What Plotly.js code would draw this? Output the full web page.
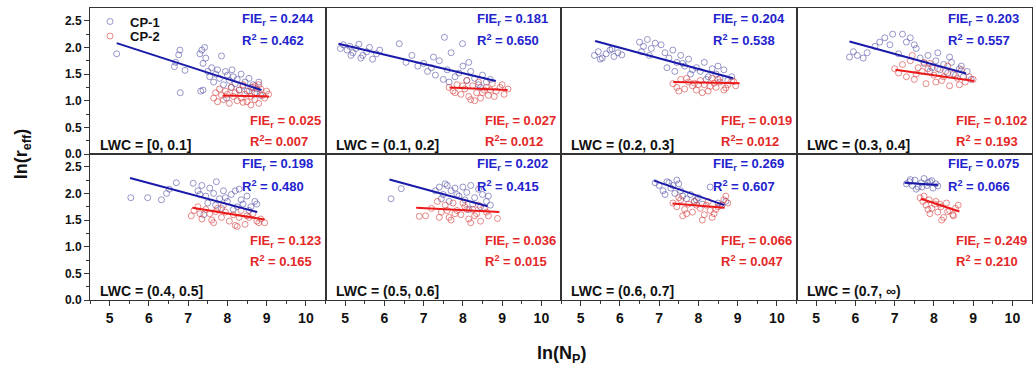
<!DOCTYPE html>
<html>
<head>
<meta charset="utf-8">
<script src="https://cdn.plot.ly/plotly-3.0.1.min.js"></script>
<style>html,body{margin:0;padding:0;background:#fff;}#chart{width:1035px;height:374px;}</style>
</head>
<body>
<div id="chart"></div>
<script>
// ---------- DATA ----------
const lwcLabels = ['LWC = [0, 0.1]','LWC = (0.1, 0.2]','LWC = (0.2, 0.3]','LWC = (0.3, 0.4]',
                   'LWC = (0.4, 0.5]','LWC = (0.5, 0.6]','LWC = (0.6, 0.7]','LWC = (0.7, \u221E)'];
const fie1 = ['0.244','0.181','0.204','0.203','0.198','0.202','0.269','0.075'];
const r2cp1 = ['0.462','0.650','0.538','0.557','0.480','0.415','0.607','0.066'];
const fie2 = ['0.025','0.027','0.019','0.102','0.123','0.036','0.066','0.249'];
const r2cp2 = ['0.007','0.012','0.012','0.193','0.165','0.015','0.047','0.210'];
const r2cp2Sep = ['= ','= ','= ',' = ',' = ',' = ',' = ',' = '];

// CP-1 scatter, one array per panel
const cp1X = [
 [5.18,6.65,6.68,6.76,6.79,6.92,6.80,7.32,7.38,7.30,7.35,7.42,7.45,7.38,7.50,7.55,7.60,7.65,7.70,7.75,7.80,7.85,7.90,7.95,8.00,8.05,8.10,8.15,8.20,8.25,8.30,8.35,8.40,8.45,8.50,8.55,8.60,8.65,8.70,8.75,8.80,8.85,7.98,8.12],
 [4.88,4.95,5.05,5.12,5.20,5.28,5.35,5.45,5.55,5.62,5.70,5.80,5.88,5.40,5.15,6.38,6.55,6.70,6.85,7.00,7.10,7.20,7.30,7.40,7.53,7.50,7.60,7.70,7.80,7.90,7.99,8.00,8.10,8.20,8.30,8.40,8.50,8.60,8.70,7.25,7.65,8.15,8.45],
 [5.35,5.45,5.55,5.65,5.75,5.85,5.95,6.05,5.50,5.80,6.50,6.60,6.70,6.80,6.90,6.55,6.75,7.05,7.15,7.25,7.35,7.45,7.55,7.65,7.75,7.85,7.20,7.40,7.60,7.80,7.95,8.05,8.15,8.25,8.35,8.45,8.55,8.65,8.75,8.85,8.20,8.50],
 [5.85,5.95,6.05,6.20,6.30,6.50,6.62,6.75,6.88,6.95,7.20,7.30,7.40,7.50,7.55,7.10,7.65,7.75,7.85,7.95,8.05,8.15,8.25,8.35,8.45,8.55,8.65,8.75,8.85,8.95,8.10,8.40,8.70,7.90],
 [5.54,5.97,6.32,6.45,6.52,6.70,7.13,7.25,7.35,7.45,7.55,7.65,7.72,7.80,7.90,8.00,8.10,8.20,8.30,8.40,8.50,8.60,8.70,8.75,7.30,7.50,7.70,7.95,8.15,8.35,8.55,7.40,7.85,8.25],
 [6.17,6.43,7.30,7.40,7.50,7.60,7.70,7.80,7.90,8.00,8.10,8.20,8.30,8.40,8.50,8.60,8.70,7.45,7.65,7.85,8.05,8.25,8.45,8.65,7.55,8.15],
 [6.90,7.00,7.10,7.20,7.30,7.40,7.50,7.60,7.15,7.35,7.55,7.70,7.80,7.90,8.00,8.10,8.30,8.50,8.60,8.70,7.25,7.45,7.95],
 [7.30,7.38,7.45,7.52,7.60,7.68,7.75,7.82,7.90,7.98,8.05,8.10,7.55,7.70,7.85,7.40,7.95]
];
const cp1Y = [
 [1.88,1.64,1.72,1.86,1.95,1.57,1.15,1.18,1.20,1.88,1.95,2.00,1.80,1.70,1.55,1.45,1.62,1.35,1.50,1.58,1.42,1.84,1.30,1.55,1.48,1.38,1.25,1.45,1.32,1.40,1.20,1.50,1.28,1.35,1.18,1.42,1.25,1.30,1.15,1.22,1.35,1.10,1.05,1.58],
 [1.98,2.05,1.95,2.02,1.90,1.98,2.06,1.85,1.92,2.00,1.78,1.88,1.95,1.80,1.85,2.07,1.72,1.85,1.65,1.70,1.55,1.62,1.48,1.75,2.19,1.40,1.58,1.90,1.45,1.52,2.07,1.65,1.38,1.55,1.42,1.30,1.48,1.35,1.40,1.82,1.35,1.72,1.25],
 [1.85,1.92,1.80,1.88,1.95,1.83,1.90,1.86,1.78,1.97,2.10,2.02,2.15,1.98,2.08,1.92,1.85,2.05,1.90,1.80,1.95,1.72,1.85,1.65,1.78,1.58,1.62,1.55,1.70,1.50,1.62,1.55,1.72,1.45,1.60,1.50,1.42,1.58,1.38,1.45,1.40,1.65],
 [1.82,1.92,1.85,1.80,1.90,2.02,2.10,2.18,2.05,2.25,2.25,2.10,2.18,2.05,1.98,1.88,1.80,1.70,1.85,1.62,1.75,1.58,1.68,1.52,1.72,1.48,1.60,1.45,1.55,1.40,1.90,1.82,1.65,1.55],
 [1.92,1.92,1.88,2.00,2.08,2.20,2.19,2.05,2.15,1.95,2.10,2.00,2.22,1.90,2.05,1.85,1.98,2.05,2.08,1.80,1.95,1.75,1.85,1.80,1.98,1.82,1.78,1.92,1.70,1.88,1.68,1.60,1.72,1.75],
 [1.90,2.09,2.05,2.12,1.98,2.15,2.05,2.10,1.95,2.12,2.02,2.15,1.92,2.08,1.98,1.85,1.78,1.90,1.85,1.98,1.88,1.80,1.75,1.95,2.18,1.70],
 [2.20,2.15,2.05,2.22,2.10,2.00,2.18,1.95,1.98,2.15,2.05,1.90,1.98,1.85,1.92,1.80,2.12,1.82,1.78,1.85,2.20,2.25,1.88],
 [2.18,2.22,2.15,2.25,2.12,2.20,2.28,2.15,2.22,2.10,2.18,2.14,2.08,2.12,2.20,2.26,2.24]
];
// CP-2 scatter, one array per panel
const cp2X = [
 [7.65,7.70,7.75,7.80,7.85,7.90,7.95,8.00,8.05,8.10,8.15,8.20,8.25,8.30,8.35,8.40,8.45,8.50,8.55,8.60,8.65,8.70,8.75,8.80,8.85,8.90,8.95,9.00,9.05,8.80,8.60,8.40,8.70],
 [7.65,7.75,7.85,7.95,8.05,8.15,8.25,8.35,8.45,8.55,8.65,8.75,8.85,8.95,9.05,9.15,7.80,8.00,8.20,8.40,8.60,8.80,9.00,8.10,8.50,8.70,8.30],
 [7.35,7.45,7.55,7.65,7.75,7.85,7.95,8.05,8.15,8.25,8.35,8.45,8.55,8.65,8.75,8.85,8.95,7.50,7.70,7.90,8.10,8.30,8.50,8.70,8.90,8.00,8.40],
 [7.00,7.10,7.20,7.30,7.40,7.50,7.60,7.70,7.80,7.90,8.00,8.10,8.20,8.30,8.40,8.50,8.60,8.70,8.80,8.90,9.00,7.45,7.75,8.05,8.35,8.65,7.55,8.25,7.85],
 [7.08,7.15,7.25,7.35,7.45,7.55,7.65,7.75,7.85,7.95,8.05,8.15,8.25,8.35,8.45,8.55,8.65,8.75,8.85,8.95,7.30,7.60,7.90,8.20,8.50,8.80,7.70,8.30],
 [6.89,7.05,7.20,7.35,7.45,7.55,7.65,7.75,7.85,7.95,8.05,8.15,8.25,8.35,8.45,8.55,8.65,8.88,7.40,7.60,7.80,8.00,8.20,8.40,8.60,7.70,8.10,8.30],
 [7.35,7.45,7.55,7.65,7.75,7.85,7.95,8.05,8.15,8.25,8.35,8.45,8.55,8.65,8.75,7.50,7.70,7.90,8.10,8.30,8.50,8.70,7.60,8.20,8.40],
 [7.65,7.72,7.80,7.88,7.95,8.02,8.10,8.18,8.25,8.32,8.40,8.48,8.55,8.62,7.75,7.90,8.05,8.20,8.35,8.50,7.85,8.15]
];
const cp2Y = [
 [1.05,1.15,0.98,1.22,1.10,1.02,1.18,1.12,0.95,1.25,1.08,1.15,1.00,1.20,1.05,1.30,1.12,0.98,1.18,1.08,1.25,1.02,1.15,0.95,1.22,1.10,1.05,1.18,1.12,1.30,0.92,0.97,1.28],
 [1.25,1.18,1.30,1.12,1.22,1.08,1.28,1.15,1.05,1.20,1.10,1.32,1.18,1.25,1.12,1.22,1.15,1.28,1.02,1.35,1.25,1.08,1.30,1.38,1.15,1.20,1.00],
 [1.32,1.25,1.40,1.22,1.35,1.28,1.20,1.38,1.30,1.18,1.42,1.25,1.35,1.20,1.30,1.38,1.28,1.18,1.42,1.33,1.15,1.27,1.40,1.24,1.36,1.30,1.33],
 [1.60,1.52,1.68,1.45,1.75,1.40,1.62,1.55,1.32,1.70,1.48,1.60,1.38,1.55,1.28,1.50,1.42,1.58,1.35,1.45,1.40,1.85,1.72,1.35,1.65,1.30,1.50,1.45,1.60],
 [1.58,1.68,1.75,1.52,1.70,1.62,1.45,1.72,1.55,1.65,1.48,1.60,1.38,1.68,1.42,1.55,1.62,1.48,1.52,1.45,1.62,1.50,1.78,1.40,1.58,1.45,1.66,1.55],
 [1.57,1.58,1.72,1.85,1.65,1.78,1.55,1.82,1.68,1.60,1.75,1.52,1.70,1.62,1.48,1.72,1.58,1.53,1.55,1.68,1.62,1.82,1.45,1.78,1.65,1.50,1.70,1.58],
 [1.82,1.75,1.88,1.70,1.80,1.65,1.78,1.72,1.60,1.85,1.55,1.70,1.78,1.88,1.82,1.92,1.62,1.85,1.50,1.68,1.75,1.95,1.58,1.78,1.62],
 [1.92,1.85,1.78,1.88,1.72,1.80,1.65,1.75,1.55,1.82,1.68,1.60,1.72,1.78,1.95,1.62,1.85,1.50,1.66,1.58,1.70,1.80]
];
// Linear fit end points [start, end] per panel
const fit1X = [[5.18,8.87],[4.83,8.84],[5.37,8.88],[5.85,8.82],[5.52,8.76],[6.13,8.63],[6.87,8.66],[7.25,8.10]];
const fit1Y = [[2.08,1.20],[2.07,1.37],[2.12,1.42],[2.11,1.51],[2.29,1.65],[2.26,1.76],[2.24,1.78],[2.20,2.16]];
const fit2X = [[7.88,9.06],[7.66,9.14],[7.36,9.05],[7.02,9.03],[7.11,8.95],[6.81,8.93],[7.34,8.67],[7.67,8.65]];
const fit2Y = [[1.10,1.08],[1.25,1.20],[1.35,1.33],[1.58,1.37],[1.73,1.51],[1.73,1.65],[1.81,1.73],[1.90,1.66]];
const xTicks = [5,6,7,8,9,10];
const yTicks = [0,0.5,1,1.5,2,2.5];

// ---------- STYLE ----------
const FONT = 'Liberation Sans, Arial, Helvetica, sans-serif';
const BLUE_TXT = 'rgb(35,35,205)', RED_TXT = 'rgb(228,40,40)';
const BLUE_LINE = 'rgb(25,25,170)', RED_LINE = 'rgb(235,25,25)';
const BLUE_MK = 'rgba(70,70,160,0.7)', RED_MK = 'rgba(215,60,60,0.75)';
const AX = '#333';
const legFont = {family:FONT, size:13, weight:'bold', color:'#111'};

const traces = [];
const layout = {
  width:1035, height:374,
  margin:{l:90, r:3, t:8, b:74},
  paper_bgcolor:'#fff', plot_bgcolor:'#fff',
  font:{family:FONT, color:'#111'},
  showlegend:true,
  legend:{x:0, y:1.005, xanchor:'left', yanchor:'top', bgcolor:'rgba(0,0,0,0)', font:legFont, itemwidth:30},
  legend2:{x:0, y:0.955, xanchor:'left', yanchor:'top', bgcolor:'rgba(0,0,0,0)', font:legFont, itemwidth:30},
  annotations:[]
};

for (let i = 0; i < 8; i++) {
  const n = i + 1;
  const xs = n === 1 ? '' : String(n);
  const xa = 'x' + xs, ya = 'y' + xs;
  const col = i % 4, row = i < 4 ? 0 : 1;
  const bottom = row === 1, left = col === 0;

  layout['xaxis' + xs] = {
    domain:[col*0.25, (col+1)*0.25], anchor:ya, range:[4.5,10.5],
    showline:true, mirror:true, linecolor:AX, linewidth:1,
    showgrid:false, zeroline:false,
    tickvals:xTicks, ticks: bottom ? 'outside' : '', ticklen:5, tickwidth:1, tickcolor:AX,
    showticklabels:bottom,
    tickfont:{family:FONT, size:14, weight:'bold', color:'#111'},
    minor: bottom ? {ticks:'outside', ticklen:3, tickwidth:1, tickcolor:AX, dtick:0.5, tick0:4.5, showgrid:false} : {ticks:''}
  };
  layout['yaxis' + xs] = {
    domain: row === 0 ? [0.5,1] : [0,0.5], anchor:xa, range:[0,2.74],
    showline:true, mirror:true, linecolor:AX, linewidth:1,
    showgrid:false, zeroline:false,
    tickvals:yTicks, tickformat:'.1f', ticks: left ? 'outside' : '', ticklen:5, tickwidth:1, tickcolor:AX,
    showticklabels:left,
    tickfont:{family:FONT, size:12, weight:'bold', color:'#111'},
    minor: left ? {ticks:'outside', ticklen:3, tickwidth:1, tickcolor:AX, dtick:0.25, tick0:0, showgrid:false} : {ticks:''}
  };

  traces.push({type:'scatter', mode:'markers', x:cp1X[i], y:cp1Y[i], xaxis:xa, yaxis:ya,
    name:'CP-1', showlegend: i === 0, legend:'legend',
    marker:{symbol:'circle-open', size:6, color:BLUE_MK, line:{width:0.8}}});
  traces.push({type:'scatter', mode:'markers', x:cp2X[i], y:cp2Y[i], xaxis:xa, yaxis:ya,
    name:'CP-2', showlegend: i === 0, legend:'legend2',
    marker:{symbol:'circle-open', size:6, color:RED_MK, line:{width:0.8}}});
  traces.push({type:'scatter', mode:'lines', x:fit1X[i], y:fit1Y[i], xaxis:xa, yaxis:ya,
    showlegend:false, hoverinfo:'skip', line:{color:BLUE_LINE, width:2}});
  traces.push({type:'scatter', mode:'lines', x:fit2X[i], y:fit2Y[i], xaxis:xa, yaxis:ya,
    showlegend:false, hoverinfo:'skip', line:{color:RED_LINE, width:2}});

  const xr = xa + ' domain', yr = ya + ' domain';
  const pos = row === 0
    ? {b1:0.918, b2:0.78, r1:0.223, r2:0.086, l:0.065}
    : {b1:0.928, b2:0.78, r1:0.404, r2:0.27, l:0.064};
  const ann = (txt, x, y, color, size) => layout.annotations.push({
    text:txt, xref:xr, yref:yr, x:x, y:y, xanchor:'left', yanchor:'middle',
    showarrow:false, font:{family:FONT, size:size, weight:'bold', color:color}});
  ann('FIE<sub>r</sub> = ' + fie1[i], 0.635, pos.b1, BLUE_TXT, 13);
  ann('R<sup>2</sup> = ' + r2cp1[i], 0.635, pos.b2, BLUE_TXT, 13);
  ann('FIE<sub>r</sub> = ' + fie2[i], 0.67, pos.r1, RED_TXT, 13);
  ann('R<sup>2</sup>' + r2cp2Sep[i] + r2cp2[i], 0.67, pos.r2, RED_TXT, 13);
  ann(lwcLabels[i], 0.035, pos.l, '#111', 14);
}

// axis titles
layout.annotations.push({text:'ln(r<sub>eff</sub>)', xref:'paper', yref:'paper',
  x:-0.072, y:0.5, xanchor:'center', yanchor:'middle', textangle:-90, showarrow:false,
  font:{family:FONT, size:18, weight:'bold', color:'#111'}});
layout.annotations.push({text:'ln(N<sub>P</sub>)', xref:'paper', yref:'paper',
  x:0.5, y:-0.188, xanchor:'center', yanchor:'middle', showarrow:false,
  font:{family:FONT, size:18, weight:'bold', color:'#111'}});

Plotly.newPlot('chart', traces, layout, {displayModeBar:false, staticPlot:true});
</script>
</body>
</html>
